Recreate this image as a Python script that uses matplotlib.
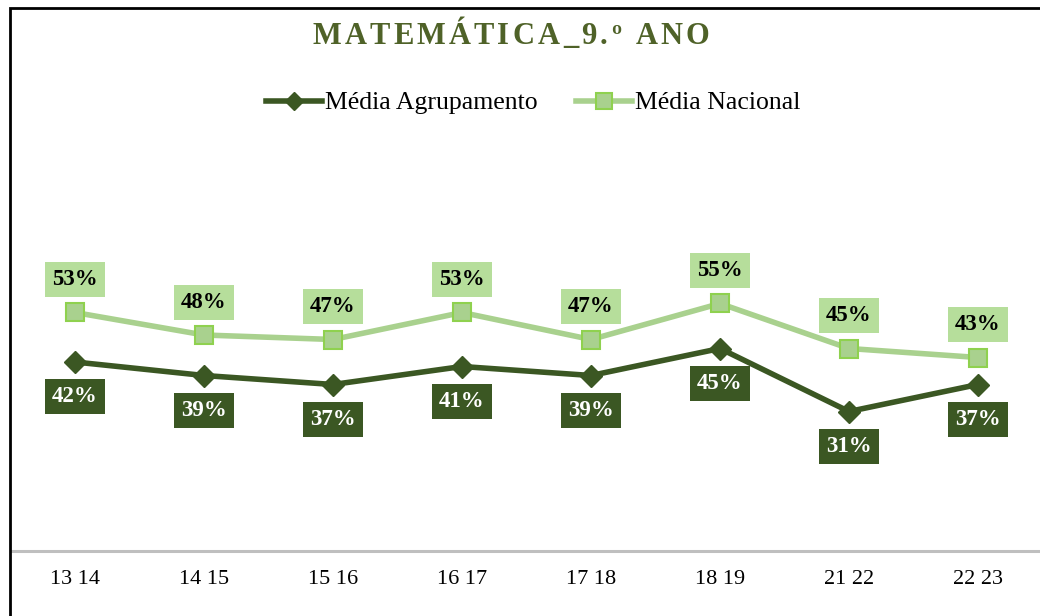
import matplotlib
matplotlib.use("Agg")
import matplotlib.pyplot as plt
from matplotlib.patches import Rectangle
from matplotlib.lines import Line2D

categories = ["13 14", "14 15", "15 16", "16 17", "17 18", "18 19", "21 22", "22 23"]
media_agrupamento = [42, 39, 37, 41, 39, 45, 31, 37]
media_nacional = [53, 48, 47, 53, 47, 55, 45, 43]
title = "MATEMÁTICA_9.º ANO"
series_names = ["Média Agrupamento", "Média Nacional"]

dark = "#3B5723"
light = "#A9D18E"
light_edge = "#8FD14F"
light_box = "#B6DE9B"
title_col = "#4F6228"
serif = ["Liberation Serif", "DejaVu Serif"]

W, H = 1040, 616
fig = plt.figure(figsize=(W / 100, H / 100), dpi=100)
fig.patch.set_facecolor("white")

ax = fig.add_axes([10.5 / W, 65 / H, 1032 / W, 450 / H])
ax.set_xlim(-0.5, len(categories) - 0.5)
ax.set_ylim(0, 100)
ax.set_facecolor("none")
for s in ["top", "right", "left"]:
    ax.spines[s].set_visible(False)
ax.spines["bottom"].set_color("#BFBFBF")
ax.spines["bottom"].set_linewidth(2.2)
ax.set_yticks([])
x = list(range(len(categories)))
ax.set_xticks(x)
ax.set_xticklabels(categories, fontfamily=serif, fontsize=16)
ax.tick_params(axis="x", length=0, pad=14)

ax.plot(x, media_nacional, color=light, lw=4, marker="s", ms=13.5,
        mfc=light, mec=light_edge, mew=1.5, zorder=3, clip_on=False)
ax.plot(x, media_agrupamento, color=dark, lw=4, marker="D", ms=11.5,
        mfc=dark, mec=dark, zorder=4, clip_on=False)

for xi, v in zip(x, media_nacional):
    ax.annotate(f"{v}%", (xi, v), xytext=(0, 23.5), textcoords="offset points",
                ha="center", va="center", fontsize=16.5, fontweight="bold",
                fontfamily=serif, color="black",
                bbox=dict(boxstyle="square,pad=0.3", fc=light_box, ec="none"))
for xi, v in zip(x, media_agrupamento):
    ax.annotate(f"{v}%", (xi, v), xytext=(0, -25), textcoords="offset points",
                ha="center", va="center", fontsize=16.5, fontweight="bold",
                fontfamily=serif, color="white",
                bbox=dict(boxstyle="square,pad=0.3", fc=dark, ec="none"))

# Letter-spaced title
fig.canvas.draw()
renderer = fig.canvas.get_renderer()
spacing = 3.2
chars = []
total = 0.0
for ch in title:
    t = fig.text(0, 0, ch, fontsize=22, fontweight="bold", fontfamily=serif,
                 color=title_col, va="baseline", ha="left")
    w = t.get_window_extent(renderer).width if ch != " " else 8.0
    chars.append((t, w))
    total += w + spacing
total -= spacing
cx = 511
xpos = cx - total / 2
for t, w in chars:
    t.set_position((xpos / W, 1 - 44 / H))
    xpos += w + spacing

handles = [
    Line2D([], [], color=dark, lw=4, marker="D", ms=9, mfc=dark, mec=dark),
    Line2D([], [], color=light, lw=4, marker="s", ms=11, mfc=light, mec=light_edge, mew=1.5),
]
fig.legend(handles, series_names, loc="center", bbox_to_anchor=(533 / W, 1 - 103 / H),
           ncol=2, frameon=False, prop={"family": serif, "size": 18.5},
           handlelength=2.2, handletextpad=0.1, columnspacing=1.5)

fig.patches.append(Rectangle((9.5 / W, -0.05), 1.2, 1 - 8.5 / H + 0.05,
                             transform=fig.transFigure, fill=False,
                             ec="black", lw=2, zorder=10))

fig.savefig("out.png", dpi=100)
